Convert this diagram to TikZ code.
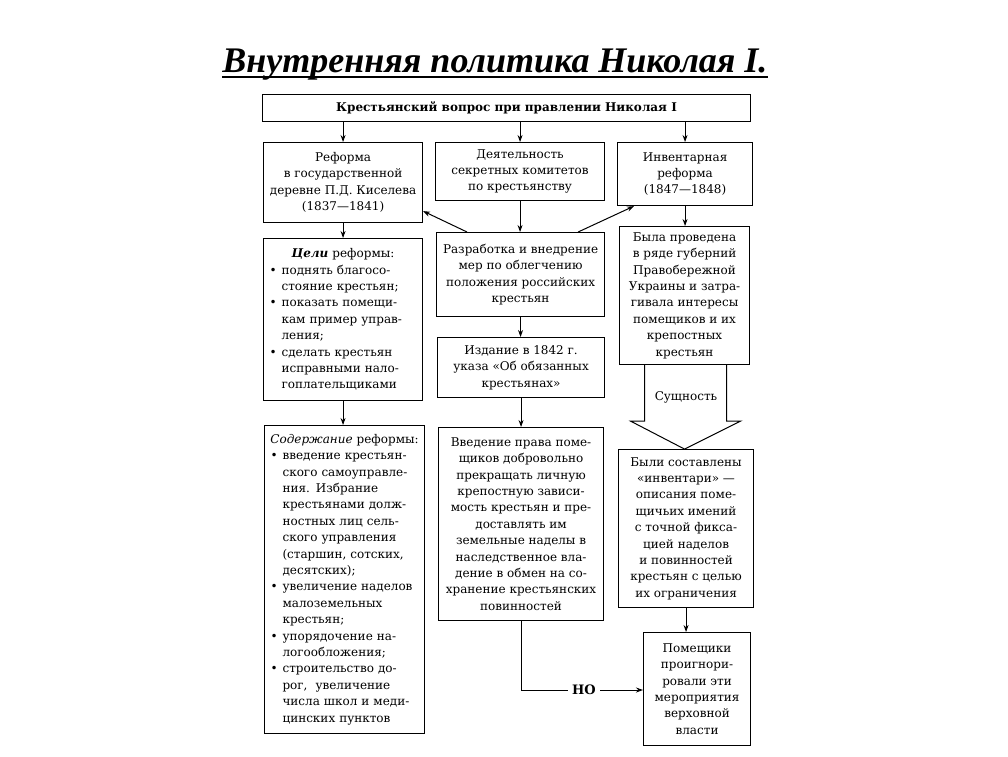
\documentclass[tikz,border=0pt]{standalone}
\usepackage{fontspec}
\setmainfont{DejaVu Serif}
\newfontfamily\ttlfont{Liberation Serif}
\usetikzlibrary{arrows.meta}
\newcommand\bxfont{\fontsize{12}{16.4}\selectfont}
\newcommand\bul{\makebox[12pt][l]{\textbullet}}
\newcommand\ind{\hspace*{12pt}}
\begin{document}
\begin{tikzpicture}[x=1pt,y=-1pt,
  bx/.style={draw, line width=1.1pt, anchor=north west, inner sep=0pt, align=center, font=\bxfont},
  lst/.style={draw, line width=1.1pt, anchor=north west, inner xsep=6pt, inner ysep=0pt, align=left, font=\bxfont},
  arr/.style={line width=1pt, -{Stealth[length=7pt,width=5pt]}},
  ln/.style={line width=1pt}]
\useasboundingbox (0,0) rectangle (1008,756);
\fill[white] (0,0) rectangle (1008,756);

% title
\node[font=\ttlfont\bfseries\itshape\fontsize{36}{40}\selectfont, inner sep=0pt, anchor=base] (title) at (495,72) {Внутренняя политика Николая I.};
\draw[line width=2.2pt] ([yshift=-5pt]title.base west) -- ([yshift=-5pt]title.base east);

% top box
\node[bx, minimum width=488, minimum height=27, font=\bxfont\bfseries] (top) at (262,94) {Крестьянский вопрос при правлении Николая I};

% left column
\node[bx, minimum width=159, minimum height=80] (k1) at (263,142) {Реформа\\в государственной\\деревне П.Д. Киселева\\(1837—1841)};
\node[lst, text width=147, minimum height=162] (k2) at (263,238) {\makebox[\hsize]{\textbf{\textit{Цели}} реформы:}\\
\bul поднять благосо-\\
\ind стояние крестьян;\\
\bul показать помещи-\\
\ind кам пример управ-\\
\ind ления;\\
\bul сделать крестьян\\
\ind исправными нало-\\
\ind гоплательщиками};
\node[lst, text width=148, minimum height=308] (k3) at (264,425) {\makebox[\hsize]{\textit{Содержание} реформы:}\\
\bul введение крестьян-\\
\ind ского самоуправле-\\
\ind ния. Избрание\\
\ind крестьянами долж-\\
\ind ностных лиц сель-\\
\ind ского управления\\
\ind (старшин, сотских,\\
\ind десятских);\\
\bul увеличение наделов\\
\ind малоземельных\\
\ind крестьян;\\
\bul упорядочение на-\\
\ind логообложения;\\
\bul строительство до-\\
\ind рог, \ увеличение\\
\ind числа школ и меди-\\
\ind цинских пунктов};

% middle column
\node[bx, minimum width=169, minimum height=58] (m1) at (435,142) {Деятельность\\секретных комитетов\\по крестьянству};
\node[bx, minimum width=168, minimum height=84] (m2) at (436,232) {Разработка и внедрение\\мер по облегчению\\положения российских\\крестьян};
\node[bx, minimum width=167, minimum height=60] (m3) at (437,337) {Издание в 1842 г.\\указа «Об обязанных\\крестьянах»};
\node[bx, minimum width=165, minimum height=193] (m4) at (438,427) {Введение права поме-\\щиков добровольно\\прекращать личную\\крепостную зависи-\\мость крестьян и пре-\\доставлять им\\земельные наделы в\\наследственное вла-\\дение в обмен на со-\\хранение крестьянских\\повинностей};

% right column
\node[bx, minimum width=135, minimum height=63] (r1) at (617,142) {Инвентарная\\реформа\\(1847—1848)};
\node[bx, minimum width=130, minimum height=138] (r2) at (619,226) {Была проведена\\в ряде губерний\\Правобережной\\Украины и затра-\\гивала интересы\\помещиков и их\\крепостных\\крестьян};
\node[bx, minimum width=135, minimum height=158] (r3) at (618,449) {Были составлены\\«инвентари» —\\описания поме-\\щичьих имений\\с точной фикса-\\цией наделов\\и повинностей\\крестьян с целью\\их ограничения};
\node[bx, minimum width=107, minimum height=113] (pom) at (643,632) {Помещики\\проигнори-\\ровали эти\\мероприятия\\верховной\\власти};

% arrows from top
\draw[arr] (top.south -| k1.north) -- (k1.north);
\draw[arr] (top.south -| m1.north) -- (m1.north);
\draw[arr] (top.south -| r1.north) -- (r1.north);

% left column arrows
\draw[arr] (k1.south) -- (k1.south |- k2.north);
\draw[arr] (k2.south) -- (k2.south |- k3.north);

% middle column arrows
\draw[arr] (m1.south) -- (m1.south |- m2.north);
\draw[arr] (m2.south) -- (m2.south |- m3.north);
\draw[arr] (m3.south) -- (m3.south |- m4.north);
\draw[arr] ([xshift=31pt]m2.north west) -- ([yshift=12pt]k1.south east);
\draw[arr] ([xshift=-27pt]m2.north east) -- ([xshift=17pt]r1.south west);

% right column
\draw[arr] (r1.south) -- (r1.south |- r2.north);
\draw[ln, line join=miter] ([xshift=-40pt]r2.south) -- ++(0,56) -- ++(-14,0) -- ++(54,28) -- ++(56,-28) -- ++(-14,0) -- ++(0,-56);
\node[font=\bxfont] (ess) at (686,397) {Сущность};
\draw[arr] (r3.south) -- (r3.south |- pom.north);

% НО
\node[font=\fontsize{13}{15}\selectfont\bfseries, inner sep=4pt] (no) at (584,690) {НО};
\draw[ln] (m4.south) |- (no.west);
\draw[arr] (no.east) -- (no.east -| pom.west);
\end{tikzpicture}
\end{document}
